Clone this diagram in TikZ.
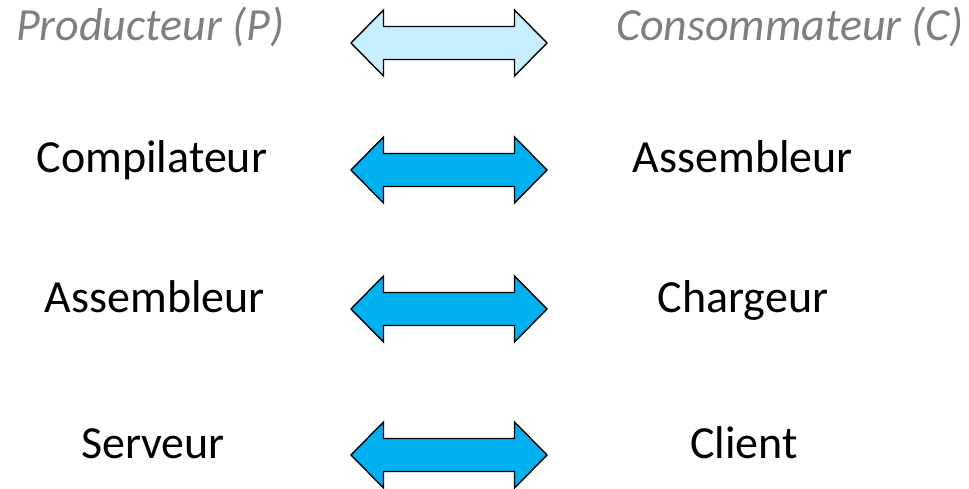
\documentclass[tikz,border=0pt]{standalone}
\usepackage{fontspec}
\setmainfont{Carlito}
\definecolor{hdrgray}{HTML}{7F7F7F}
\definecolor{lightarr}{HTML}{C7EFFF}
\definecolor{darkarr}{HTML}{00B0F0}
\tikzset{
  lbl/.style={font=\fontsize{46}{55}\selectfont, anchor=base, inner sep=0pt},
  hdr/.style={lbl, font=\fontsize{46}{55}\selectfont\itshape, text=hdrgray},
  dblarrow/.pic={
    \draw[line width=1.4pt, line join=miter, fill=#1]
      (-98,0) -- (-65.5,33) -- (-65.5,16.5) -- (65.5,16.5) -- (65.5,33) -- (98,0)
      -- (65.5,-33) -- (65.5,-16.5) -- (-65.5,-16.5) -- (-65.5,-33) -- cycle;
  }
}
\begin{document}
\begin{tikzpicture}[x=1pt,y=1pt]
\useasboundingbox (0,0) rectangle (969,488);
% header row
\node[hdr] (p) at (150,447) {Producteur (P)};
\node[hdr] (c) at (790,447) {Consommateur (C)};
\pic at (449,445) {dblarrow=lightarr};
% row 2
\node[lbl] (l1) at (152,315) {Compilateur};
\node[lbl] (r1) at (743,315) {Assembleur};
\pic at (449,318) {dblarrow=darkarr};
% row 3
\node[lbl] (l2) at (155,176) {Assembleur};
\node[lbl] (r2) at (743,176) {Chargeur};
\pic at (449,179) {dblarrow=darkarr};
% row 4
\node[lbl] (l3) at (153,30) {Serveur};
\node[lbl] (r3) at (744,30) {Client};
\pic at (449,33) {dblarrow=darkarr};
\end{tikzpicture}
\end{document}
